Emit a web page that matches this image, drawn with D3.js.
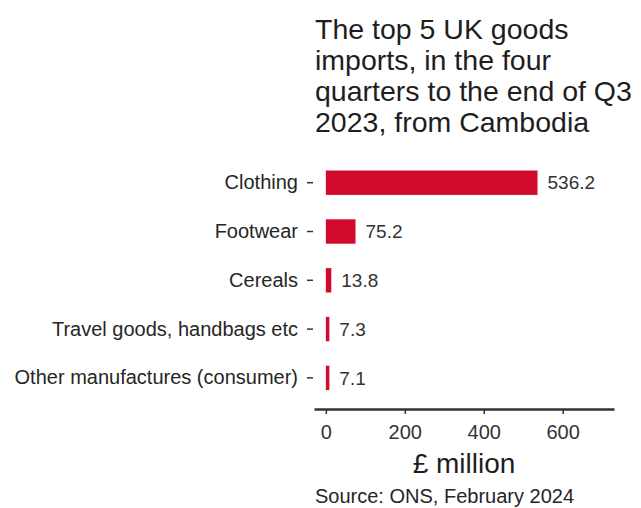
<!DOCTYPE html>
<html>
<head>
<meta charset="utf-8">
<script src="https://cdn.jsdelivr.net/npm/d3@7"></script>
<style>
  body { margin: 0; background: #fff; }
  text { font-family: "Liberation Sans", Arial, sans-serif; }
</style>
</head>
<body>
<svg id="chart" width="641" height="508"></svg>
<script>
// data
var categories = ["Clothing", "Footwear", "Cereals", "Travel goods, handbags etc", "Other manufactures (consumer)"];
var values = [536.2, 75.2, 13.8, 7.3, 7.1];
var xTicks = [0, 200, 400, 600];
var titleLines = ["The top 5 UK goods", "imports, in the four", "quarters to the end of Q3", "2023, from Cambodia"];

var svg = d3.select("#chart");
var barColor = "#d20a2e";
var axisColor = "#333333";

// scales
var x = d3.scaleLinear().domain([-30, 730]).range([314, 614]);
var y = d3.scaleBand().domain(categories).range([158.3, 402.3]).paddingInner(0.5).paddingOuter(0.25);

// title
svg.append("g").selectAll("text").data(titleLines).enter().append("text")
    .attr("x", 315)
    .attr("y", function (d, i) { return 39 + i * 31; })
    .style("font-size", "28.5px")
    .style("fill", "#1e1e1e")
    .text(function (d) { return d; });

// bars
svg.selectAll(".bar").data(values).enter().append("rect")
    .classed("bar", true)
    .attr("x", x(0))
    .attr("y", function (d, i) { return y(categories[i]); })
    .attr("width", function (d) { return Math.max(x(d) - x(0), 3.5); })
    .attr("height", y.bandwidth())
    .style("fill", barColor);

// value labels
svg.selectAll(".val").data(values).enter().append("text")
    .classed("val", true)
    .attr("x", function (d) { return Math.max(x(d), x(0) + 3.5) + 10; })
    .attr("y", function (d, i) { return y(categories[i]) + y.bandwidth() / 2; })
    .attr("dy", ".35em")
    .style("font-size", "19px")
    .style("fill", "#333")
    .text(function (d) { return d.toFixed(1); });

// y axis (ticks and labels only)
var yAxis = svg.append("g")
    .attr("transform", "translate(313,0)")
    .call(d3.axisLeft(y).tickSize(6).tickPadding(9));
yAxis.select(".domain").remove();
yAxis.selectAll("line").style("stroke", axisColor).style("stroke-width", 1.5);
yAxis.selectAll("text")
    .style("font-size", "20px")
    .style("fill", "#262626")
    .style("font-family", "'Liberation Sans', Arial, sans-serif");

// x axis
var xAxis = svg.append("g")
    .attr("transform", "translate(0,409)")
    .call(d3.axisBottom(x).tickValues(xTicks).tickSize(5).tickPadding(11).tickSizeOuter(0));
xAxis.select(".domain").style("stroke", axisColor).style("stroke-width", 2.5);
xAxis.selectAll("line").style("stroke", axisColor).style("stroke-width", 1.5);
xAxis.selectAll("text")
    .style("font-size", "20px")
    .style("fill", "#333")
    .style("font-family", "'Liberation Sans', Arial, sans-serif");

// x axis title
svg.append("text")
    .attr("x", 464)
    .attr("y", 473)
    .attr("text-anchor", "middle")
    .style("font-size", "28px")
    .style("fill", "#1e1e1e")
    .text("£ million");

// source
svg.append("text")
    .attr("x", 315)
    .attr("y", 503)
    .style("font-size", "20px")
    .style("fill", "#262626")
    .text("Source: ONS, February 2024");
</script>
</body>
</html>
